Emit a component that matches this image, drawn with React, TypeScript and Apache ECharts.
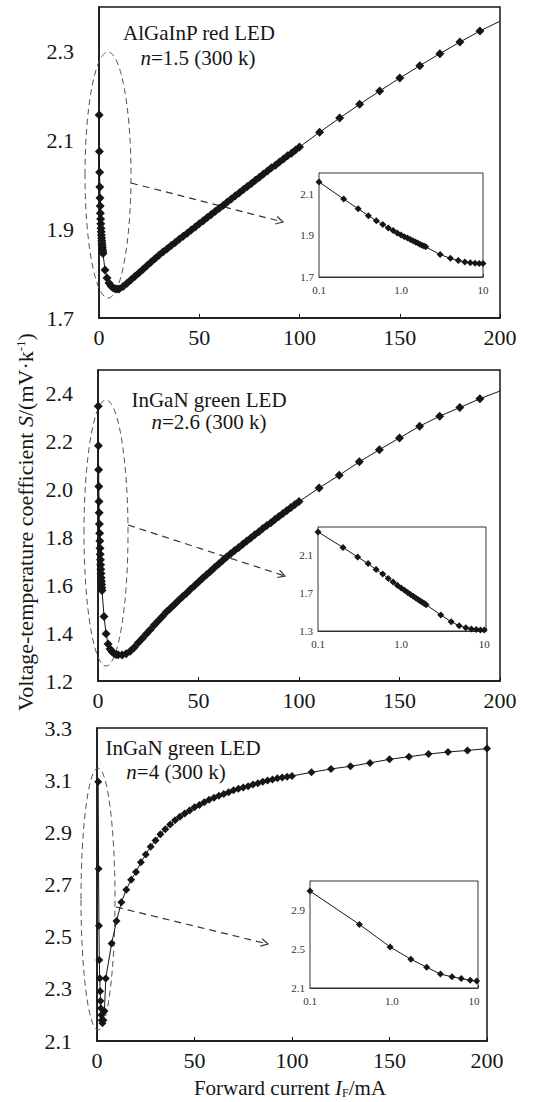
import React, { useEffect, useRef } from "react";
import * as echarts from "echarts";

// ---------- data (forward current I in mA, coefficient S in mV/K) ----------
// Panel 1: AlGaInP red LED, n=1.5
const p1LowI = [0.1, 0.2, 0.3, 0.4, 0.5, 0.6, 0.7, 0.8, 0.9, 1.0, 1.1, 1.2, 1.3, 1.4, 1.5, 1.6, 1.7, 1.8, 1.9, 2.0, 3, 4, 5, 6, 7, 8, 9, 10];
const p1LowS = [2.157, 2.075, 2.028, 1.995, 1.970, 1.952, 1.936, 1.923, 1.912, 1.902, 1.894, 1.887, 1.880, 1.874, 1.868, 1.863, 1.858, 1.853, 1.849, 1.845, 1.808, 1.790, 1.779, 1.772, 1.768, 1.766, 1.765, 1.765];
const p1MidI = [12, 14, 16, 18, 20, 22, 24, 26, 28, 30, 32, 34, 36, 38, 40, 42, 44, 46, 48, 50, 52, 54, 56, 58, 60, 62, 64, 66, 68, 70, 72, 74, 76, 78, 80, 82, 84, 86, 88, 90, 92, 94, 96, 98, 100];
const p1MidS = [1.771, 1.778, 1.786, 1.794, 1.802, 1.810, 1.818, 1.826, 1.834, 1.842, 1.849, 1.856, 1.863, 1.870, 1.877, 1.884, 1.891, 1.898, 1.905, 1.912, 1.919, 1.926, 1.933, 1.940, 1.947, 1.954, 1.961, 1.968, 1.975, 1.982, 1.989, 1.996, 2.003, 2.010, 2.017, 2.024, 2.031, 2.038, 2.044, 2.051, 2.058, 2.065, 2.071, 2.078, 2.085];
const p1HighI = [110, 120, 130, 140, 150, 160, 170, 180, 190];
const p1HighS = [2.118, 2.150, 2.181, 2.211, 2.240, 2.268, 2.295, 2.321, 2.346];
const p1EndI = 200;
const p1EndS = 2.368;

// Panel 2: InGaN green LED, n=2.6
const p2LowI = [0.1, 0.2, 0.3, 0.4, 0.5, 0.6, 0.7, 0.8, 0.9, 1.0, 1.1, 1.2, 1.3, 1.4, 1.5, 1.6, 1.7, 1.8, 1.9, 2.0, 3, 4, 5, 6, 7, 8, 9, 10];
const p2LowS = [2.348, 2.183, 2.083, 2.013, 1.950, 1.903, 1.856, 1.818, 1.785, 1.755, 1.730, 1.707, 1.686, 1.667, 1.649, 1.632, 1.617, 1.603, 1.590, 1.578, 1.470, 1.398, 1.355, 1.334, 1.322, 1.315, 1.311, 1.310];
const p2MidI = [12, 14, 16, 18, 20, 22, 24, 26, 28, 30, 32, 34, 36, 38, 40, 42, 44, 46, 48, 50, 52, 54, 56, 58, 60, 62, 64, 66, 68, 70, 72, 74, 76, 78, 80, 82, 84, 86, 88, 90, 92, 94, 96, 98, 100];
const p2MidS = [1.309, 1.314, 1.324, 1.340, 1.360, 1.378, 1.396, 1.414, 1.434, 1.452, 1.470, 1.488, 1.504, 1.520, 1.536, 1.552, 1.567, 1.583, 1.598, 1.614, 1.629, 1.644, 1.659, 1.674, 1.689, 1.704, 1.718, 1.732, 1.745, 1.758, 1.772, 1.785, 1.798, 1.811, 1.824, 1.837, 1.850, 1.862, 1.875, 1.888, 1.900, 1.913, 1.925, 1.938, 1.950];
const p2HighI = [110, 120, 130, 140, 150, 160, 170, 180, 190];
const p2HighS = [2.007, 2.060, 2.116, 2.167, 2.216, 2.265, 2.307, 2.343, 2.380];
const p2EndI = 200;
const p2EndS = 2.412;

// Panel 3: InGaN green LED, n=4
const p3LowI = [0.6, 0.8, 1.0, 1.2, 1.4, 1.6, 1.8, 2.0, 2.2, 2.4, 2.8, 3.3, 3.8, 4.5];
const p3LowS = [3.094, 2.760, 2.542, 2.411, 2.341, 2.291, 2.253, 2.226, 2.200, 2.180, 2.168, 2.180, 2.215, 2.340];
const p3MidI = [7.5, 10, 12.5, 15, 17.5, 20, 22.5, 25, 27.5, 30, 32.5, 35, 37.5, 40, 42.5, 45, 47.5, 50, 52.5, 55, 57.5, 60, 62.5, 65, 67.5, 70, 72.5, 75, 77.5, 80, 82.5, 85, 87.5, 90, 92.5, 95, 97.5, 100];
const p3MidS = [2.474, 2.560, 2.632, 2.680, 2.718, 2.748, 2.785, 2.815, 2.845, 2.869, 2.893, 2.912, 2.930, 2.946, 2.960, 2.972, 2.984, 2.996, 3.005, 3.015, 3.025, 3.033, 3.040, 3.047, 3.054, 3.061, 3.067, 3.072, 3.077, 3.083, 3.088, 3.094, 3.099, 3.103, 3.107, 3.110, 3.113, 3.116];
const p3HighI = [110, 120, 130, 140, 150, 160, 170, 180, 190, 200];
const p3HighS = [3.130, 3.143, 3.153, 3.166, 3.180, 3.190, 3.200, 3.208, 3.214, 3.221];
// Panel 3 inset (log scale)
const p3InsetI = [0.1, 0.4, 0.95, 1.7, 2.65, 3.9, 5.4, 7.0, 9.0, 10.8];
const p3InsetS = [3.096, 2.754, 2.522, 2.396, 2.313, 2.243, 2.215, 2.198, 2.180, 2.173];

// Tick labels
const mainXTicks = [0, 50, 100, 150, 200];
const p1YTicks = [1.7, 1.9, 2.1, 2.3];
const p2YTicks = [1.2, 1.4, 1.6, 1.8, 2.0, 2.2, 2.4];
const p3YTicks = [2.1, 2.3, 2.5, 2.7, 2.9, 3.1, 3.3];
const inset1YTicks = [1.7, 1.9, 2.1];
const inset2YTicks = [1.3, 1.7, 2.1];
const inset3YTicks = [2.1, 2.5, 2.9];
const insetXTicks = [0.1, 1, 10];
const insetXLabels = ["0.1", "1.0", "10"];

const titles = [
  { line1: "AlGaInP red LED", n: "=1.5 (300 k)" },
  { line1: "InGaN green LED", n: "=2.6 (300 k)" },
  { line1: "InGaN green LED", n: "=4 (300 k)" },
];

// ---------- helpers ----------
const FONT = "Liberation Serif";
const INK = "#161616";

const zip = (xs: number[], ys: number[]) => xs.map((x, i) => [x, ys[i]]);

const listFormatter = (list: number[], digits = 1) => (v: number) => {
  const hit = list.find((t) => Math.abs(t - v) < 1e-6);
  return hit === undefined ? "" : hit.toFixed(digits);
};

const logFormatter = (v: number) => {
  const idx = insetXTicks.findIndex((t) => Math.abs(Math.log10(t) - Math.log10(v)) < 1e-4);
  return idx < 0 ? "" : insetXLabels[idx];
};

export default function App() {
  const ref = useRef<HTMLDivElement>(null);

  useEffect(() => {
    if (!ref.current) return;
    const chart = echarts.init(ref.current, undefined, { renderer: "svg" });

    const grids = [
      { left: 99, top: 7, width: 401, height: 311 },
      { left: 98, top: 370, width: 402, height: 311 },
      { left: 97, top: 728, width: 390, height: 313 },
      { left: 319, top: 173, width: 164, height: 104 },
      { left: 318, top: 527, width: 168, height: 104 },
      { left: 310, top: 881, width: 168, height: 107 },
    ].map((g, i) => ({
      ...g,
      show: true,
      borderColor: i < 3 ? INK : "#333",
      borderWidth: i < 3 ? 1.5 : 1,
      backgroundColor: i < 3 ? "transparent" : "#fff",
      z: i < 3 ? 1 : 5,
    }));

    const mainX = (gi: number) => ({
      gridIndex: gi,
      type: "value",
      min: 0,
      max: 200,
      interval: 50,
      axisLine: { show: true, lineStyle: { color: INK, width: 1.5 } },
      axisTick: { show: true, inside: true, length: 4, lineStyle: { color: INK } },
      axisLabel: {
        fontSize: 22,
        fontFamily: FONT,
        color: INK,
        margin: 8,
        formatter: listFormatter(mainXTicks, 0),
      },
      splitLine: { show: false },
    });
    const mainY = (gi: number, min: number, max: number, ticks: number[]) => ({
      gridIndex: gi,
      type: "value",
      min,
      max,
      interval: 0.2,
      axisLine: { show: true, lineStyle: { color: INK, width: 1.5 } },
      axisTick: { show: false },
      axisLabel: {
        fontSize: 22,
        fontFamily: FONT,
        color: INK,
        margin: 25,
        formatter: listFormatter(ticks, 1),
      },
      splitLine: { show: false },
    });
    const insetX = (gi: number, max: number) => ({
      gridIndex: gi,
      type: "log",
      logBase: 10,
      min: 0.1,
      max,
      axisLine: { show: true, lineStyle: { color: "#333", width: 1 } },
      axisTick: { show: true, inside: true, length: 3, lineStyle: { color: "#333" } },
      minorTick: { show: false },
      axisLabel: { fontSize: 11, fontFamily: FONT, color: "#333", margin: 7, formatter: logFormatter },
      splitLine: { show: false },
    });
    const insetY = (gi: number, min: number, max: number, ticks: number[]) => ({
      gridIndex: gi,
      type: "value",
      min,
      max,
      interval: ticks[1] - ticks[0],
      axisLine: { show: true, lineStyle: { color: "#333", width: 1 } },
      axisTick: { show: false },
      axisLabel: { fontSize: 11, fontFamily: FONT, color: "#333", margin: 5, formatter: listFormatter(ticks, 1) },
      splitLine: { show: false },
    });

    const lineSeries = (gi: number, data: any[], size: number) => ({
      type: "line",
      xAxisIndex: gi,
      yAxisIndex: gi,
      data,
      symbol: "diamond",
      symbolSize: size,
      showSymbol: true,
      lineStyle: { color: INK, width: 1 },
      itemStyle: { color: INK },
      silent: true,
      z: gi < 3 ? 3 : 6,
    });

    const p1Main = [
      ...zip(p1LowI, p1LowS),
      ...zip(p1MidI, p1MidS),
      ...zip(p1HighI, p1HighS),
      { value: [p1EndI, p1EndS], symbol: "none" },
    ];
    const p2Main = [
      ...zip(p2LowI, p2LowS),
      ...zip(p2MidI, p2MidS),
      ...zip(p2HighI, p2HighS),
      { value: [p2EndI, p2EndS], symbol: "none" },
    ];
    const p3Main = [...zip(p3LowI, p3LowS), ...zip(p3MidI, p3MidS), ...zip(p3HighI, p3HighS)];

    const dash = [6, 4];
    const ellipse = (cx: number, cy: number, rx: number, ry: number) => ({
      type: "ellipse",
      shape: { cx, cy, rx, ry },
      style: { fill: "none", stroke: "#555", lineWidth: 1, lineDash: dash },
      z: 2,
      silent: true,
    });
    const arrow = (x1: number, y1: number, x2: number, y2: number) => {
      const a = Math.atan2(y2 - y1, x2 - x1);
      const L = 8;
      const s = 0.5;
      return [
        {
          type: "line",
          shape: { x1, y1, x2, y2 },
          style: { stroke: "#333", lineWidth: 1.2, lineDash: [7, 5] },
          z: 2,
          silent: true,
        },
        {
          type: "polyline",
          shape: {
            points: [
              [x2 - L * Math.cos(a - s), y2 - L * Math.sin(a - s)],
              [x2, y2],
              [x2 - L * Math.cos(a + s), y2 - L * Math.sin(a + s)],
            ],
          },
          style: { stroke: "#333", lineWidth: 1.2, fill: "none" },
          z: 2,
          silent: true,
        },
      ];
    };
    const richBase = {
      i: { fontStyle: "italic", fontFamily: FONT, fontSize: 21, fill: INK },
    };
    const titleText = (x: number, y: number, text: string) => ({
      type: "text",
      x,
      y,
      z: 10,
      silent: true,
      style: {
        text,
        rich: richBase,
        fontFamily: FONT,
        fontSize: 21,
        fill: INK,
        align: "center",
        verticalAlign: "middle",
      },
    });

    const titlePos = [
      [199, 33, 198, 58],
      [209, 400, 209, 422],
      [183, 748, 176, 772],
    ];
    const titleEls = titles.flatMap((t, i) => [
      titleText(titlePos[i][0], titlePos[i][1], t.line1),
      titleText(titlePos[i][2], titlePos[i][3], "{i|n}" + t.n),
    ]);

    const option = {
      animation: false,
      backgroundColor: "#fff",
      textStyle: { fontFamily: FONT },
      grid: grids,
      xAxis: [mainX(0), mainX(1), mainX(2), insetX(3, 10), insetX(4, 10.5), insetX(5, 11.2)],
      yAxis: [
        mainY(0, 1.7, 2.4, p1YTicks),
        mainY(1, 1.2, 2.5, p2YTicks),
        mainY(2, 2.1, 3.3, p3YTicks),
        insetY(3, 1.7, 2.2, inset1YTicks),
        insetY(4, 1.3, 2.4, inset2YTicks),
        insetY(5, 2.1, 3.2, inset3YTicks),
      ],
      series: [
        lineSeries(0, p1Main, 9),
        lineSeries(1, p2Main, 9),
        lineSeries(2, p3Main, 8),
        lineSeries(3, zip(p1LowI, p1LowS), 7),
        lineSeries(4, zip(p2LowI, p2LowS), 7),
        lineSeries(5, zip(p3InsetI, p3InsetS), 7),
      ],
      graphic: [
        ellipse(108, 175, 23, 123),
        ellipse(106, 533, 22, 133),
        ellipse(98, 899, 17, 131),
        ...arrow(131, 183, 283, 222),
        ...arrow(128, 525, 285, 576),
        ...arrow(116, 907, 268, 944),
        ...titleEls,
        {
          type: "text",
          x: 25,
          y: 522,
          rotation: Math.PI / 2,
          z: 10,
          silent: true,
          style: {
            text: "Voltage-temperature coefficient {i|S}/(mV·k{sup|-1})",
            rich: {
              i: { fontStyle: "italic", fontFamily: FONT, fontSize: 22, fill: INK },
              sup: { fontFamily: FONT, fontSize: 13, fill: INK, verticalAlign: "top" },
            },
            fontFamily: FONT,
            fontSize: 22,
            fill: INK,
            align: "center",
            verticalAlign: "middle",
          },
        },
        {
          type: "text",
          x: 290,
          y: 1088,
          z: 10,
          silent: true,
          style: {
            text: "Forward current {i|I}{sub|F}/mA",
            rich: {
              i: { fontStyle: "italic", fontFamily: FONT, fontSize: 21, fill: INK },
              sub: { fontFamily: FONT, fontSize: 12, fill: INK, verticalAlign: "bottom" },
            },
            fontFamily: FONT,
            fontSize: 21,
            fill: INK,
            align: "center",
            verticalAlign: "middle",
          },
        },
      ],
    };

    chart.setOption(option as any);
    return () => chart.dispose();
  }, []);

  return (
    <div
      ref={ref}
      style={{ position: "absolute", left: 0, top: 0, width: 549, height: 1102, background: "#fff" }}
    />
  );
}
